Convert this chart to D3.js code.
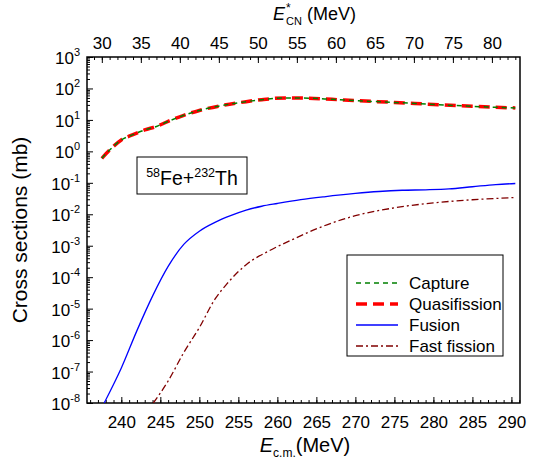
<!DOCTYPE html>
<html><head><meta charset="utf-8">
<script src="https://cdn.jsdelivr.net/npm/d3@7"></script>
<style>body{margin:0;background:#fff}svg{display:block}text{font-family:"Liberation Sans",Arial,sans-serif}</style>
</head><body><svg id="c" width="548" height="467"></svg>
<script>
// Data
const captureE = [237.5,238.5,240,241.5,243,244.5,246,248,250,253,256,258,261,264,267,270,275,280,285,290.5];
const captureV = [0.6,1.1,2.3,3.4,4.8,6.2,9,14,20,29,38,44,50,49,45,41,36,31,27,24];
const quasiE = captureE;
const quasiV = [0.6,1.1,2.3,3.4,4.8,6.2,9,14,20,29,38,44,50,49,45,41,36,31,27,24];
const fusionE = [237.8,240,242,244,246,248,250,252,254,256,258,260,263,266,270,273,276,279,282,285,288,290.5];
const fusionV = [1e-8,1.3e-7,2e-6,2.5e-5,2.2e-4,1.1e-3,2.9e-3,5.5e-3,9e-3,0.0135,0.018,0.022,0.029,0.036,0.046,0.053,0.058,0.06,0.064,0.075,0.088,0.095];
const ffE = [244.1,246,248,250,252,253.5,256,259,262,266,270,275,280,285,290.5];
const ffV = [1e-8,5e-8,4e-7,2.5e-6,2e-5,6e-5,2.5e-4,7e-4,1.6e-3,4.3e-3,9e-3,1.6e-2,2.3e-2,2.9e-2,3.4e-2];
const bottomTicks = [240,245,250,255,260,265,270,275,280,285,290];
const topTicks = [30,35,40,45,50,55,60,65,70,75,80];
const yExps = [3,2,1,0,-1,-2,-3,-4,-5,-6,-7,-8];
const qValue = 207.5; // E*CN = Ecm - Q
const legendNames = ["Capture","Quasifission","Fusion","Fast fission"];

const svg = d3.select("#c");
const L=87,R=520,T=57,B=403;
const x = d3.scaleLinear().domain([235.6,291.1]).range([L,R]);
const xTop = d3.scaleLinear().domain([235.6-qValue,291.1-qValue]).range([L,R]);
const y = d3.scaleLog().domain([1e-8,1e3]).range([B,T]);

// frame
svg.append("rect").attr("x",L).attr("y",T).attr("width",R-L).attr("height",B-T)
  .attr("fill","none").attr("stroke","#000").attr("stroke-width",1.5);

// bottom axis
const gB = svg.append("g").attr("transform",`translate(0,${B})`);
gB.call(d3.axisBottom(x).tickValues(d3.range(236,292,1)).tickSize(-3).tickFormat(""))
  .call(g=>g.select(".domain").remove());
gB.append("g").call(d3.axisBottom(x).tickValues(bottomTicks).tickSize(-6).tickPadding(13).tickFormat(d3.format("d")))
  .call(g=>g.select(".domain").remove());
gB.selectAll("text").attr("font-size",17).attr("fill","#000").attr("font-family","Liberation Sans, Arial, sans-serif");
gB.selectAll("line").attr("stroke","#000").attr("stroke-width",1);

// top axis
const gT = svg.append("g").attr("transform",`translate(0,${T})`);
gT.call(d3.axisTop(xTop).tickValues(d3.range(29,84,1)).tickSize(-3).tickFormat(""))
  .call(g=>g.select(".domain").remove());
gT.append("g").call(d3.axisTop(xTop).tickValues(topTicks).tickSize(-6).tickPadding(8).tickFormat(d3.format("d")))
  .call(g=>g.select(".domain").remove());
gT.selectAll("text").attr("font-size",17).attr("fill","#000").attr("font-family","Liberation Sans, Arial, sans-serif");
gT.selectAll("line").attr("stroke","#000").attr("stroke-width",1);

// left axis
const minorY = [];
for (let e=-8;e<3;e++) for (let k=2;k<10;k++) minorY.push(k*Math.pow(10,e));
const gL = svg.append("g").attr("transform",`translate(${L},0)`);
gL.call(d3.axisLeft(y).tickValues(minorY).tickSize(-3).tickFormat(""))
  .call(g=>g.select(".domain").remove());
gL.append("g").call(d3.axisLeft(y).tickValues(yExps.map(e=>Math.pow(10,e))).tickSize(-6).tickFormat(""))
  .call(g=>g.select(".domain").remove());
gL.selectAll("line").attr("stroke","#000").attr("stroke-width",1);
yExps.forEach(e=>{
  const t = svg.append("text").attr("x",L-7).attr("y",y(Math.pow(10,e))+7)
    .attr("text-anchor","end").attr("font-size",17);
  t.append("tspan").text("10");
  t.append("tspan").attr("font-size",11).attr("dy",-8).text(String(e));
});

// axis titles
svg.append("text").attr("transform",`translate(27,${(T+B)/2}) rotate(-90)`).attr("text-anchor","middle")
  .attr("font-size",21).text("Cross sections (mb)");
const bt = svg.append("text").attr("x",305).attr("y",452).attr("text-anchor","middle").attr("font-size",20);
bt.append("tspan").attr("font-style","italic").text("E");
bt.append("tspan").attr("font-size",12).attr("dy",5).text("c.m.");
bt.append("tspan").attr("dy",-5).text("(MeV)");
const tt = svg.append("text").attr("x",273).attr("y",20).attr("font-size",18);
const tE = tt.append("tspan").attr("font-style","italic").text("E");
tt.append("tspan").attr("font-size",11).attr("dy",5).attr("dx",1).text("CN");
tt.append("tspan").attr("dy",-5).text(" (MeV)");
const eLen = tE.node().getComputedTextLength();
svg.append("text").attr("x",273+eLen+1).attr("y",12).attr("font-size",12).text("*");

// curves
const line = d3.line().x(d=>x(d[0])).y(d=>y(d[1])).curve(d3.curveMonotoneX);
svg.append("clipPath").attr("id","clp").append("rect").attr("x",L).attr("y",T).attr("width",R-L).attr("height",B-T);
const gC = svg.append("g").attr("clip-path","url(#clp)");
const styles = [
  {stroke:"#ff0000",w:3.5,dash:"11,6"},
  {stroke:"#008000",w:1.5,dash:"5,4"},
  {stroke:"#0000ff",w:1.3,dash:null},
  {stroke:"#800000",w:1.3,dash:"7,3,2,3"}
];
const series = [
  d3.zip(quasiE,quasiV),
  d3.zip(captureE,captureV),
  d3.zip(fusionE,fusionV),
  d3.zip(ffE,ffV)
];
series.forEach((s,i)=>{
  gC.append("path").attr("d",line(s)).attr("fill","none").attr("stroke",styles[i].stroke)
    .attr("stroke-width",styles[i].w).attr("stroke-dasharray",styles[i].dash);
});

// reaction label
svg.append("rect").attr("x",137).attr("y",157).attr("width",110).attr("height",37).attr("fill","none").attr("stroke","#000").attr("stroke-width",1);
const rl = svg.append("text").attr("x",192).attr("y",185).attr("text-anchor","middle").attr("font-size",19.5);
rl.append("tspan").attr("font-size",12.5).attr("dy",-8).text("58");
rl.append("tspan").attr("dy",8).text("Fe+");
rl.append("tspan").attr("font-size",12.5).attr("dy",-8).text("232");
rl.append("tspan").attr("dy",8).text("Th");

// legend
svg.append("rect").attr("x",347).attr("y",255).attr("width",156).attr("height",101).attr("fill","#fff").attr("stroke","#000").attr("stroke-width",1);
const legStyle = [styles[1],styles[0],styles[2],styles[3]];
const legY = [283,304,325,346];
legendNames.forEach((n,i)=>{
  svg.append("line").attr("x1",356).attr("x2",398).attr("y1",legY[i]).attr("y2",legY[i])
    .attr("stroke",legStyle[i].stroke).attr("stroke-width",legStyle[i].w).attr("stroke-dasharray",legStyle[i].dash);
  svg.append("text").attr("x",409).attr("y",legY[i]+6).attr("font-size",17).text(n);
});
</script></body></html>
